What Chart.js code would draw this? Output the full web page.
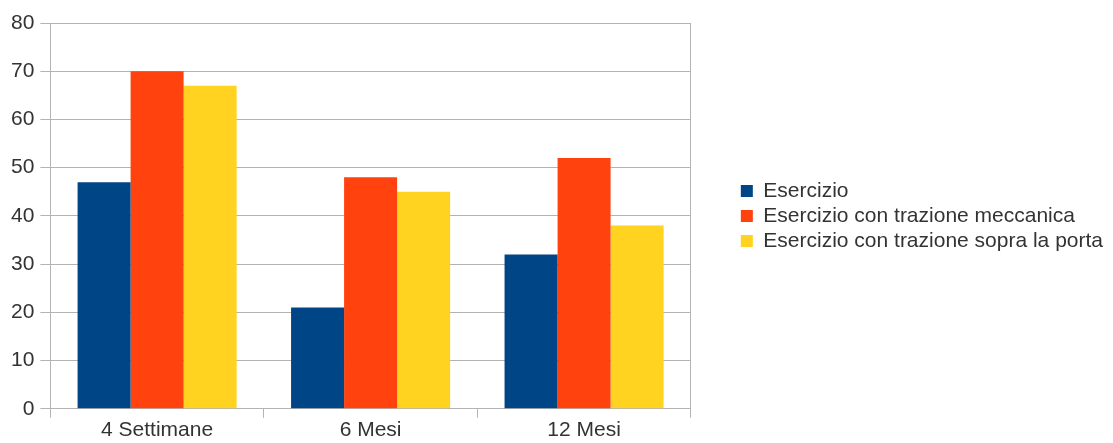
<!DOCTYPE html>
<html>
<head>
<meta charset="utf-8">
<script src="https://cdn.jsdelivr.net/npm/chart.js@4/dist/chart.umd.min.js"></script>
<style>
  html, body { margin: 0; padding: 0; background: #ffffff; }
  #wrap { width: 1113px; height: 443px; }
</style>
</head>
<body>
<div id="wrap"><canvas id="c" width="1113" height="443"></canvas></div>
<script>
// Periodi di follow-up
const categories = ['4 Settimane', '6 Mesi', '12 Mesi'];

// Valori per gruppo di trattamento
const esercizio = [47, 21, 32];
const trazioneMeccanica = [70, 48, 52];
const trazionePorta = [67, 45, 38];

const seriesNames = [
  'Esercizio',
  'Esercizio con trazione meccanica',
  'Esercizio con trazione sopra la porta'
];
const seriesColors = ['#004586', '#ff420e', '#ffd320'];

// Asse Y
const yMin = 0;
const yMax = 80;
const yStep = 10;

const GRID = '#b3b3b3';
const TEXT = '#333333';

Chart.defaults.font.family = '"Liberation Sans", Arial, sans-serif';
Chart.defaults.font.size = 21;
Chart.defaults.color = TEXT;

const seriesValues = [esercizio, trazioneMeccanica, trazionePorta];

new Chart(document.getElementById('c'), {
  type: 'bar',
  data: {
    labels: categories,
    datasets: seriesValues.map((vals, i) => ({
      label: seriesNames[i],
      data: vals,
      backgroundColor: seriesColors[i],
      borderWidth: 0,
      barPercentage: 1.0,
      categoryPercentage: 0.745
    }))
  },
  options: {
    responsive: false,
    devicePixelRatio: 1,
    animation: false,
    layout: { padding: { top: 23, left: 5, right: 0, bottom: 0 } },
    plugins: {
      legend: {
        position: 'right',
        align: 'center',
        fullSize: false,
        maxWidth: 420,
        labels: {
          boxWidth: 12,
          boxHeight: 12,
          padding: 4,
          color: TEXT,
          font: { size: 21 }
        }
      },
      tooltip: { enabled: false }
    },
    scales: {
      x: {
        grid: {
          display: true,
          drawOnChartArea: false,
          offset: true,
          color: GRID,
          tickColor: GRID,
          tickLength: 9
        },
        border: { display: true, color: GRID, width: 1 },
        ticks: { padding: 0, color: TEXT, font: { size: 21 } }
      },
      y: {
        min: yMin,
        max: yMax,
        ticks: { stepSize: yStep, padding: 6, color: TEXT, font: { size: 21 } },
        grid: { color: GRID, tickColor: GRID, tickLength: 10 },
        border: { display: true, color: GRID, width: 1 }
      },
      // right frame line of the plot, also spacing before the legend
      frame: {
        type: 'linear',
        position: 'right',
        display: true,
        min: yMin,
        max: yMax,
        grid: { display: false },
        ticks: { display: false },
        border: { display: true, color: GRID, width: 1 },
        afterFit: (scale) => { scale.width = 46; }
      }
    }
  }
});
</script>
</body>
</html>
